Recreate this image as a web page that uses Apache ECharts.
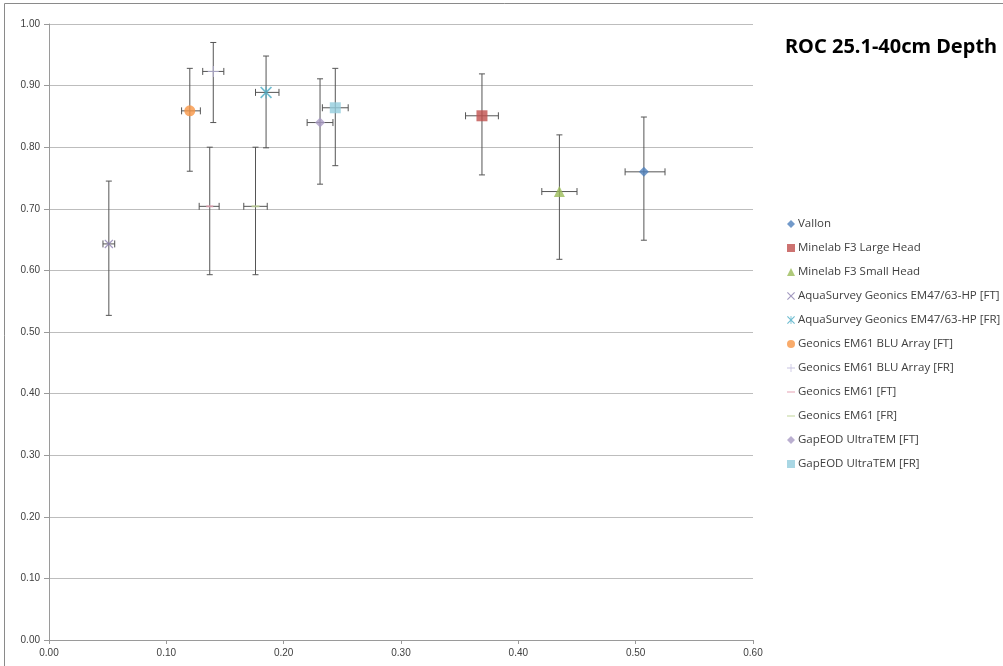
<!DOCTYPE html>
<html>
<head>
<meta charset="utf-8">
<script src="https://cdn.jsdelivr.net/npm/echarts@6/dist/echarts.min.js"></script>
<style>
  html, body { margin: 0; padding: 0; background: #fff; }
  #chart { width: 1003px; height: 666px; }
</style>
</head>
<body>
<div id="chart"></div>
<script>
// Detector results: false-alarm rate (x) vs detection rate (y), with confidence ranges
const seriesNames = [
  'Vallon',
  'Minelab F3 Large Head',
  'Minelab F3 Small Head',
  'AquaSurvey Geonics EM47/63-HP [FT]',
  'AquaSurvey Geonics EM47/63-HP [FR]',
  'Geonics EM61 BLU Array [FT]',
  'Geonics EM61 BLU Array [FR]',
  'Geonics EM61 [FT]',
  'Geonics EM61 [FR]',
  'GapEOD UltraTEM [FT]',
  'GapEOD UltraTEM [FR]'
];
const xValues = [0.507, 0.369, 0.435, 0.051, 0.185, 0.120, 0.140, 0.137, 0.176, 0.231, 0.244];
const yValues = [0.760, 0.851, 0.728, 0.643, 0.889, 0.859, 0.923, 0.704, 0.704, 0.840, 0.864];
const xLow    = [0.491, 0.355, 0.420, 0.046, 0.176, 0.113, 0.131, 0.128, 0.166, 0.220, 0.233];
const xHigh   = [0.525, 0.383, 0.450, 0.056, 0.196, 0.129, 0.149, 0.145, 0.186, 0.242, 0.255];
const yLow    = [0.649, 0.755, 0.618, 0.527, 0.799, 0.761, 0.840, 0.593, 0.593, 0.740, 0.770];
const yHigh   = [0.849, 0.919, 0.820, 0.745, 0.948, 0.928, 0.970, 0.800, 0.800, 0.911, 0.928];
const xTicks = [0, 0.1, 0.2, 0.3, 0.4, 0.5, 0.6];
const yTicks = [0, 0.1, 0.2, 0.3, 0.4, 0.5, 0.6, 0.7, 0.8, 0.9, 1.0];

const colors = ['#4F81BD', '#C0504D', '#9BBB59', '#8C7FB0', '#4BACC6', '#F79646',
                '#B9B4DA', '#E6A2B4', '#C3D69B', '#A99BC4', '#93CDDD'];

const PATH_X = 'path://M0,1 L1,0 L5,4 L9,0 L10,1 L6,5 L10,9 L9,10 L5,6 L1,10 L0,9 L4,5 Z';
const PATH_STAR = 'path://M0,1 L1,0 L5,4 L9,0 L10,1 L6,5 L10,9 L9,10 L5,6 L1,10 L0,9 L4,5 Z M4.5,0 L5.5,0 L5.5,10 L4.5,10 Z';
const PATH_PLUS = 'path://M4.5,0 H5.5 V4.5 H10 V5.5 H5.5 V10 H4.5 V5.5 H0 V4.5 H4.5 Z';
const PATH_DASH = 'path://M0,0 H10 V2.2 H0 Z';

const symbols = ['diamond', 'rect', 'triangle', PATH_X, PATH_STAR, 'circle', PATH_PLUS, PATH_DASH, PATH_DASH, 'diamond', 'rect'];
const symbolSizes = [10, 11, 11, 9, 12, 11, 11, [7, 2], [8, 2], 10, 11];

const font = 'Liberation Sans, Arial, sans-serif';

// Whisker data: one row per point, [x, y, xLow, xHigh, yLow, yHigh]
const whiskers = seriesNames.map((n, i) => [xValues[i], yValues[i], xLow[i], xHigh[i], yLow[i], yHigh[i]]);

const errorSeries = {
  type: 'custom',
  name: 'errors',
  silent: true,
  z: 1,
  data: whiskers,
  encode: { x: 0, y: 1 },
  renderItem: function (params, api) {
    const c = api.coord([api.value(0), api.value(1)]);
    const xl = api.coord([api.value(2), api.value(1)]);
    const xh = api.coord([api.value(3), api.value(1)]);
    const yl = api.coord([api.value(0), api.value(4)]);
    const yh = api.coord([api.value(0), api.value(5)]);
    const st = { stroke: '#555', lineWidth: 1 };
    const capV = 3, capH = 3.5;
    const line = (x1, y1, x2, y2) => ({ type: 'line', shape: { x1, y1, x2, y2 }, style: st });
    return {
      type: 'group',
      children: [
        line(c[0], yl[1], c[0], yh[1]),
        line(c[0] - capV, yl[1], c[0] + capV, yl[1]),
        line(c[0] - capV, yh[1], c[0] + capV, yh[1]),
        line(xl[0], c[1], xh[0], c[1]),
        line(xl[0], c[1] - capH, xl[0], c[1] + capH),
        line(xh[0], c[1] - capH, xh[0], c[1] + capH)
      ]
    };
  }
};

const pointSeries = seriesNames.map((name, i) => ({
  type: 'scatter',
  name: name,
  z: 3,
  symbol: symbols[i],
  symbolSize: symbolSizes[i],
  symbolKeepAspect: false,
  itemStyle: { color: colors[i] },
  data: [[xValues[i], yValues[i]]]
}));

const chart = echarts.init(document.getElementById('chart'), null, { renderer: 'canvas' });
chart.setOption({
  animation: false,
  backgroundColor: '#ffffff',
  color: colors,
  title: {
    text: 'ROC 25.1-40cm Depth',
    left: 780,
    top: 32,
    textStyle: { fontFamily: 'Noto Sans, sans-serif', fontSize: 20, fontWeight: 'bold', color: '#000' }
  },
  legend: {
    data: seriesNames.map((n, i) => (symbols[i] === PATH_DASH
      ? { name: n, icon: 'path://M0,4 H10 V5.6 H0 Z' }
      : { name: n })),
    orient: 'vertical',
    left: 782,
    top: 213,
    itemWidth: 8,
    itemHeight: 8,
    itemGap: 12,
    textStyle: { fontFamily: 'Open Sans, sans-serif', fontSize: 11.5, color: '#404040', padding: [0, 0, 0, -2] }
  },
  grid: { left: 49, top: 24, right: 250, bottom: 26, containLabel: false },
  xAxis: {
    type: 'value',
    min: xTicks[0],
    max: xTicks[xTicks.length - 1],
    interval: 0.1,
    axisLine: { lineStyle: { color: '#9a9a9a' } },
    axisTick: { show: true, length: 4, lineStyle: { color: '#9a9a9a' } },
    splitLine: { show: false },
    axisLabel: {
      margin: 8,
      color: '#404040',
      fontFamily: font,
      fontSize: 10,
      formatter: v => v.toFixed(2)
    }
  },
  yAxis: {
    type: 'value',
    min: yTicks[0],
    max: yTicks[yTicks.length - 1],
    interval: 0.1,
    axisLine: { show: true, lineStyle: { color: '#9a9a9a' } },
    axisTick: { show: true, length: 5, lineStyle: { color: '#9a9a9a' } },
    splitLine: { show: true, lineStyle: { color: '#bdbdbd' } },
    axisLabel: {
      margin: 9,
      color: '#404040',
      fontFamily: font,
      fontSize: 10,
      formatter: v => v.toFixed(2)
    }
  },
  graphic: [{
    type: 'rect',
    shape: { x: 4.5, y: 3.5, width: 1010, height: 680 },
    style: { fill: null, stroke: '#8a8a8a', lineWidth: 1 },
    silent: true,
    z: -1
  }],
  series: [errorSeries].concat(pointSeries)
});
</script>
</body>
</html>
